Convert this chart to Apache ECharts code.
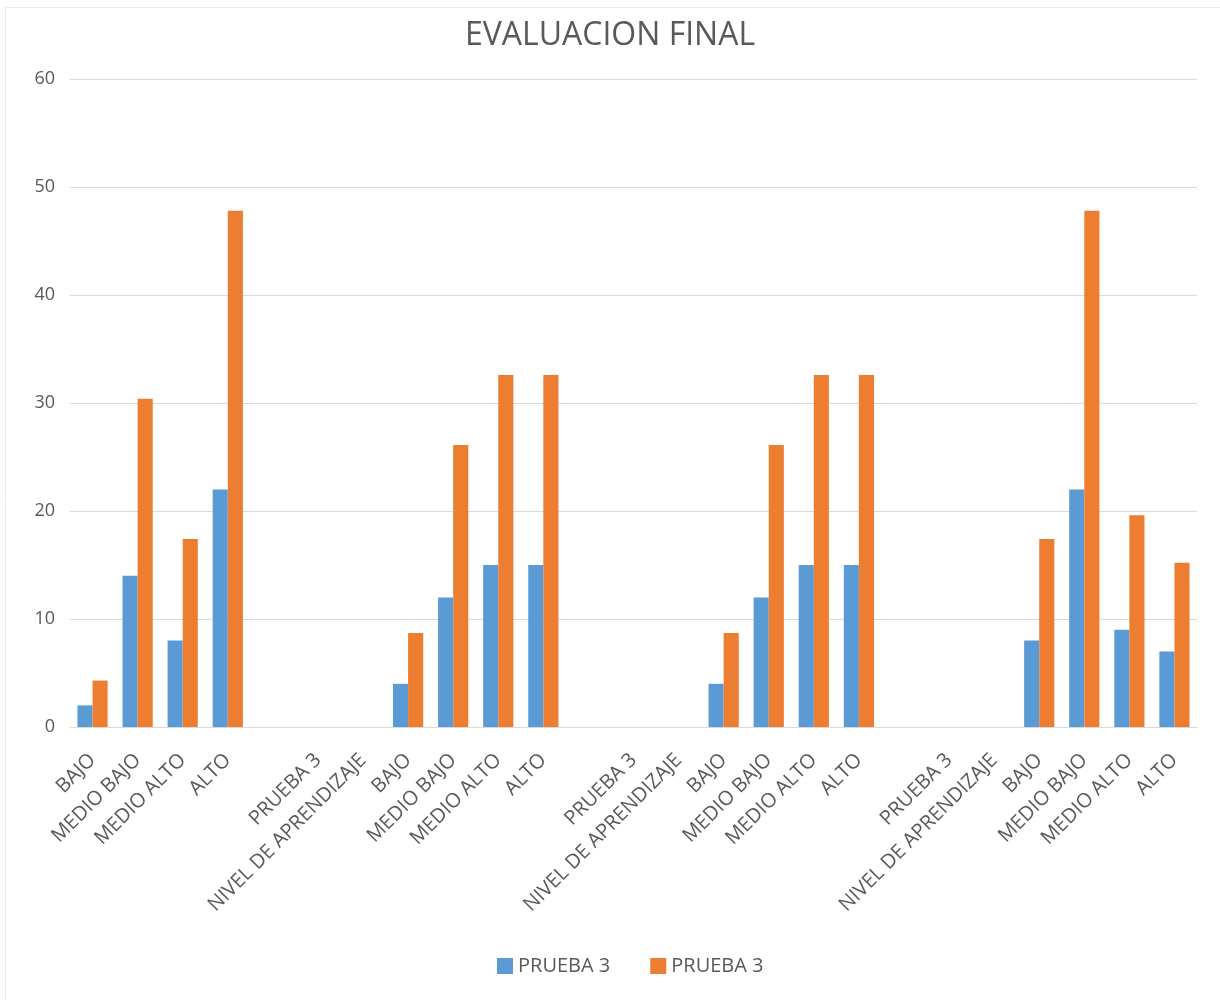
<!DOCTYPE html>
<html>
<head>
<meta charset="utf-8">
<script src="https://cdn.jsdelivr.net/npm/echarts@6/dist/echarts.min.js"></script>
<style>
html,body{margin:0;padding:0;background:#fff;}
#chart{width:1220px;height:1000px;}
</style>
</head>
<body>
<div id="chart"></div>
<script>
var categories = [
  'BAJO','MEDIO BAJO','MEDIO ALTO','ALTO','',
  'PRUEBA 3','NIVEL DE APRENDIZAJE','BAJO','MEDIO BAJO','MEDIO ALTO','ALTO','',
  'PRUEBA 3','NIVEL DE APRENDIZAJE','BAJO','MEDIO BAJO','MEDIO ALTO','ALTO','',
  'PRUEBA 3','NIVEL DE APRENDIZAJE','BAJO','MEDIO BAJO','MEDIO ALTO','ALTO'
];
var seriesNames = ['PRUEBA 3', 'PRUEBA 3 '];
var blueValues = [
  2,14,8,22,null,
  null,null,4,12,15,15,null,
  null,null,4,12,15,15,null,
  null,null,8,22,9,7
];
var orangeValues = [
  4.3,30.4,17.4,47.8,null,
  null,null,8.7,26.1,32.6,32.6,null,
  null,null,8.7,26.1,32.6,32.6,null,
  null,null,17.4,47.8,19.6,15.2
];
var yTicks = { min: 0, max: 60, interval: 10 };

var chart = echarts.init(document.getElementById('chart'), null, { renderer: 'canvas' });
var textColor = '#595959';
var fontFam = '"Open Sans", "Noto Sans", sans-serif';
chart.setOption({
  backgroundColor: '#ffffff',
  animation: false,
  title: {
    text: 'EVALUACION FINAL',
    left: 'center',
    top: 15,
    textStyle: { color: textColor, fontSize: 32, fontWeight: 'normal', fontFamily: fontFam }
  },
  graphic: [
    { type: 'line', shape: { x1: 5, y1: 7.5, x2: 1220, y2: 7.5 }, style: { stroke: '#ececec', lineWidth: 1 } },
    { type: 'line', shape: { x1: 5.5, y1: 7, x2: 5.5, y2: 1000 }, style: { stroke: '#ececec', lineWidth: 1 } }
  ],
  legend: {
    bottom: 19,
    left: 492,
    itemWidth: 16,
    itemHeight: 16,
    itemGap: 40,
    icon: 'rect',
    textStyle: { color: textColor, fontSize: 20, fontFamily: fontFam },
    data: seriesNames,
    formatter: function (n) { return n.trim(); }
  },
  grid: { left: 70, right: 23, top: 79, bottom: 273, containLabel: false },
  xAxis: {
    type: 'category',
    data: categories,
    axisTick: { show: false },
    axisLine: { lineStyle: { color: '#d9d9d9', width: 1 } },
    axisLabel: {
      interval: 0,
      rotate: 45,
      color: textColor,
      fontSize: 20,
      fontFamily: fontFam,
      margin: 30
    }
  },
  yAxis: {
    type: 'value',
    min: yTicks.min,
    max: yTicks.max,
    interval: yTicks.interval,
    axisLine: { show: false },
    axisTick: { show: false },
    splitLine: { lineStyle: { color: '#d9d9d9', width: 1 } },
    axisLabel: { color: textColor, fontSize: 18, fontFamily: fontFam, margin: 15 }
  },
  series: [
    {
      name: seriesNames[0],
      type: 'bar',
      data: blueValues,
      barGap: '0%',
      barCategoryGap: '33%',
      itemStyle: { color: '#5b9bd5' }
    },
    {
      name: seriesNames[1],
      type: 'bar',
      data: orangeValues,
      barGap: '0%',
      barCategoryGap: '33%',
      itemStyle: { color: '#ed7d31' }
    }
  ]
});
</script>
</body>
</html>
